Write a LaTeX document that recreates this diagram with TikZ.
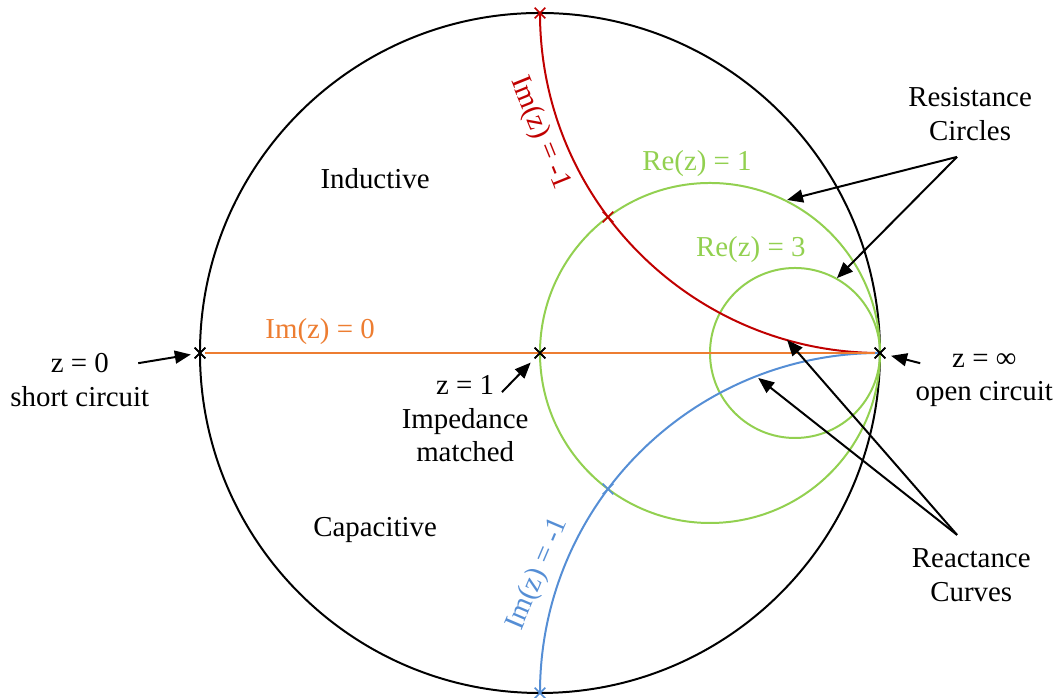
\documentclass[tikz,border=0pt]{standalone}
\usepackage{fontspec}
\setmainfont{Liberation Serif}
\usepackage{tikz}
\usetikzlibrary{arrows.meta, shapes.misc}
\definecolor{resgreen}{RGB}{146,208,80}
\definecolor{reacred}{RGB}{192,0,0}
\definecolor{reacblue}{RGB}{85,142,213}
\definecolor{realorange}{RGB}{237,125,49}

\begin{document}
\begin{tikzpicture}[
  font=\fontsize{14.5}{17}\selectfont,
  lbl/.style={align=center, inner sep=1pt},
  curve/.style={line width=1pt},
  xmark/.style={cross out, draw, line width=0.8pt, minimum size=4.5pt, inner sep=0pt},
  arr/.style={-{Triangle[length=8pt, width=6.5pt]}, line width=1pt, black}
]
  \useasboundingbox (-9.529,-6.071) rectangle (9.141,6.229);

  % chart
  \draw[curve] (0,0) circle (6);
  \draw[curve, resgreen] (3,0) circle (3);
  \draw[curve, resgreen] (4.5,0) circle (1.5);
  \draw[curve, reacred] (0,6) arc (180:270:6);
  \draw[curve, reacblue] (0,-6) arc (180:90:6);

  \node[xmark] (zero) at (-6,0) {};
  \node[xmark] (one) at (0,0) {};
  \node[xmark] (inf) at (6,0) {};
  \draw[curve, realorange] (zero) -- (inf);
  \node[xmark] at (-6,0) {};
  \node[xmark] at (0,0) {};
  \node[xmark] at (6,0) {};
  \node[xmark, reacred] (redTop) at (0,6) {};
  \node[xmark, reacred] (redMid) at (1.2,2.4) {};
  \node[xmark, reacblue] (blueMid) at (1.2,-2.4) {};
  \node[xmark, reacblue] (blueBot) at (0,-6) {};

  % labels
  \node[lbl] (ind) at (-2.91,3.07) {Inductive};
  \node[lbl] (cap) at (-2.91,-3.12) {Capacitive};
  \node[lbl, text=realorange] (imzero) at (-3.88,0.38) {Im(z) = 0};
  \node[lbl, text=resgreen] (reone) at (2.77,3.35) {Re(z) = 1};
  \node[lbl, text=resgreen] (rethree) at (3.72,1.82) {Re(z) = 3};
  \node[lbl, text=reacred, rotate=-68] (imred) at (0,3.88) {Im(z) = -1};
  \node[lbl, text=reacblue, rotate=67] (imblue) at (-0.035,-3.9) {Im(z) = -1};

  \node[lbl] (short) at (-8.12,-0.48) {z = 0\\short circuit};
  \node[lbl] (open) at (7.84,-0.48) {z = ∞\\open circuit};
  \node[lbl] (match) at (-1.32,-1.16) {z = 1\\Impedance\\matched};
  \node[lbl] (res) at (7.59,4.22) {Resistance\\Circles};
  \node[lbl] (reac) at (7.61,-3.92) {Reactance\\Curves};

  % arrows
  \coordinate (shortTail) at (-7.09,-0.18);
  \coordinate (openTail) at (6.71,-0.18);
  \coordinate (matchTail) at (-0.67,-0.69);
  \coordinate (resTail) at (7.36,3.46);
  \coordinate (reacTail) at (7.36,-3.21);
  \coordinate (resOneTip) at (4.36,2.70);
  \coordinate (resThreeTip) at (5.24,1.32);
  \coordinate (redTip) at (4.36,0.23);
  \coordinate (blueTip) at (3.85,-0.44);

  \draw[arr, shorten >=2pt] (shortTail) -- (zero);
  \draw[arr, shorten >=3pt] (openTail) -- (inf);
  \draw[arr, shorten >=3pt] (matchTail) -- (one);
  \draw[arr] (resTail) -- (resOneTip);
  \draw[arr] (resTail) -- (resThreeTip);
  \draw[arr] (reacTail) -- (redTip);
  \draw[arr] (reacTail) -- (blueTip);
\end{tikzpicture}
\end{document}
